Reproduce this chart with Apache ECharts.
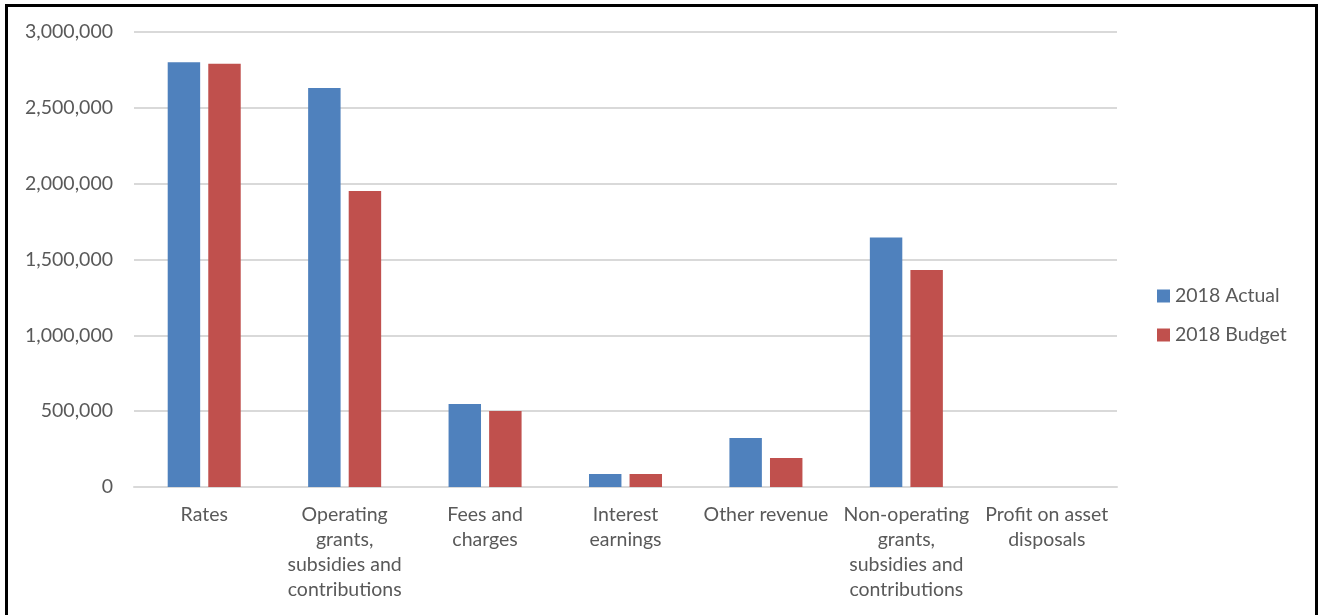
<!DOCTYPE html>
<html><head><meta charset="utf-8">
<script src="https://cdn.jsdelivr.net/npm/echarts@6/dist/echarts.min.js"></script>
<style>html,body{margin:0;padding:0;background:#fff;}#c{width:1319px;height:615px;}</style>
</head><body><div id="c"></div>
<script>
const categories = ['Rates', 'Operating\ngrants,\nsubsidies and\ncontributions', 'Fees and\ncharges', 'Interest\nearnings', 'Other revenue', 'Non-operating\ngrants,\nsubsidies and\ncontributions', 'Profit on asset\ndisposals'];
const actual2018 = [2800000, 2630000, 547000, 86000, 323000, 1645000, 0];
const budget2018 = [2790000, 1952000, 501000, 86000, 191000, 1431000, 0];
const seriesNames = ['2018 Actual', '2018 Budget'];

const chart = echarts.init(document.getElementById('c'));
const font = 'Lato, "Open Sans", sans-serif';
chart.setOption({
  animation: false,
  graphic: [{type: 'rect', shape: {x: 6.5, y: 5.5, width: 1310, height: 700}, style: {fill: 'none', stroke: '#000', lineWidth: 3}}],
  grid: {left: 134, right: 202, top: 32, bottom: 128},
  legend: {
    orient: 'vertical', left: 1152, top: 281, itemWidth: 13, itemHeight: 13, itemGap: 19,
    icon: 'rect',
    textStyle: {fontFamily: font, fontSize: 19.5, color: '#595959'},
    data: seriesNames
  },
  xAxis: {
    type: 'category', data: categories,
    axisLine: {lineStyle: {color: '#d9d9d9', width: 2}},
    axisTick: {show: false},
    axisLabel: {interval: 0, margin: 15, fontFamily: font, fontSize: 19.5, color: '#595959', lineHeight: 25}
  },
  yAxis: {
    type: 'value', min: 0, max: 3000000, interval: 500000,
    axisLine: {show: false}, axisTick: {show: false},
    splitLine: {lineStyle: {color: '#d9d9d9', width: 2}},
    axisLabel: {margin: 21, fontFamily: font, fontSize: 19.5, color: '#595959',
      formatter: v => v.toLocaleString('en-US')}
  },
  series: [
    {name: seriesNames[0], type: 'bar', data: actual2018, itemStyle: {color: '#4F81BD'}, barGap: '25%', barCategoryGap: '48%'},
    {name: seriesNames[1], type: 'bar', data: budget2018, itemStyle: {color: '#C0504D'}, barGap: '25%', barCategoryGap: '48%'}
  ]
});
</script></body></html>
